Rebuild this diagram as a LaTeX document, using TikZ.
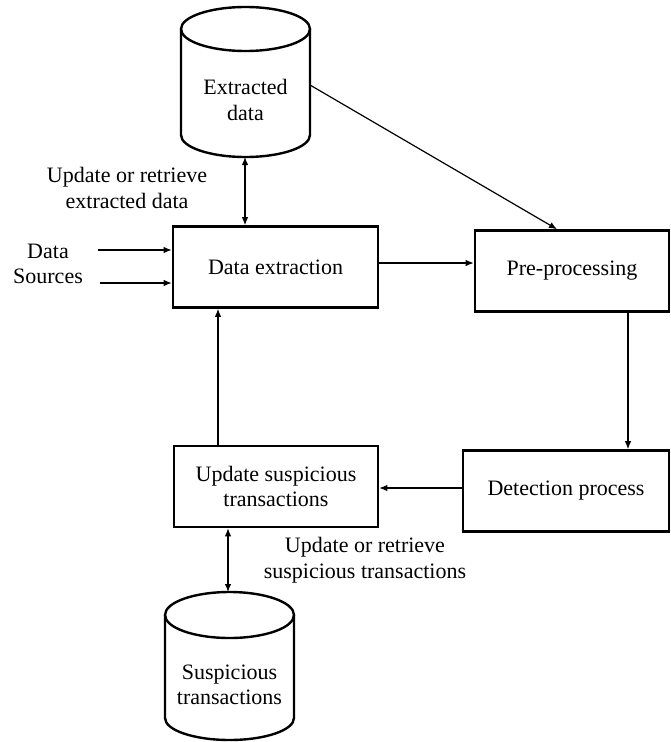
\documentclass[tikz,border=0pt]{standalone}
\usepackage{fontspec}
\setmainfont{Liberation Serif}
\usetikzlibrary{arrows.meta}
\begin{document}
\begin{tikzpicture}[x=1pt,y=1pt,
  txt/.style={align=center,inner sep=0pt,font=\fontsize{22}{25.5}\selectfont},
  box/.style={draw,line width=2.6pt,txt,minimum width=#1,minimum height=81pt},
  cyl/.style={draw,line width=2.4pt},
  arr/.style={line width=1.2pt,-{Latex[length=8pt,width=6.5pt]}},
  dbl/.style={line width=1.2pt,{Latex[length=8pt,width=6.5pt]}-{Latex[length=8pt,width=6.5pt]}}]
\useasboundingbox (0,0) rectangle (671,-742);
% Extracted data cylinder
\draw[cyl] (245.5,-29) ellipse[x radius=64.5,y radius=22];
\draw[cyl] (181,-29) -- (181,-135) arc[start angle=180,end angle=360,x radius=64.5,y radius=22] -- (310,-29);
\node[txt] (ed) at (245.5,-100) {Extracted\\data};
\coordinate (edb) at (245,-157);
\coordinate (edr) at (310,-85);
% Suspicious transactions cylinder
\draw[cyl] (229.5,-615) ellipse[x radius=64.5,y radius=23];
\draw[cyl] (165,-615) -- (165,-718) arc[start angle=180,end angle=360,x radius=64.5,y radius=22] -- (294,-615);
\node[txt] (sus) at (229.5,-685) {Suspicious\\transactions};
\coordinate (sust) at (228,-592);
% Boxes
\node[box=205pt] (de) at (275.5,-267) {Data extraction};
\node[box=194pt] (pp) at (572,-271) {Pre-processing};
\node[box=206pt] (dp) at (566,-491) {Detection process};
\node[box=204pt] (us) at (276,-486.5) {Update suspicious\\transactions};
% Labels
\node[txt] (lab1) at (127,-188) {Update or retrieve\\extracted data};
\node[txt] (lab2) at (365,-560) {Update or retrieve\\suspicious transactions};
\node[txt] (ds) at (48,-264) {Data\\Sources};
\coordinate (ds1) at (98,-250);
\coordinate (ds2) at (100,-283);
% Connectors
\draw[arr] (ds1) -- (ds1 -| de.west);
\draw[arr] (ds2) -- (ds2 -| de.west);
\draw[dbl] (edb) -- (edb |- de.north);
\draw[arr] (edr) -- ([xshift=-15pt]pp.north);
\draw[arr] ([yshift=4pt]de.east) -- ([yshift=4pt]de.east -| pp.west);
\draw[arr] ([xshift=56pt]pp.south) -- ([xshift=56pt]pp.south |- dp.north);
\draw[arr] ([yshift=3pt]dp.west) -- ([yshift=3pt]dp.west -| us.east);
\draw[arr] ([xshift=-58pt]us.north) -- ([xshift=-58pt]us.north |- de.south);
\draw[dbl] ([xshift=-48pt]us.south) -- (sust);
\end{tikzpicture}
\end{document}
